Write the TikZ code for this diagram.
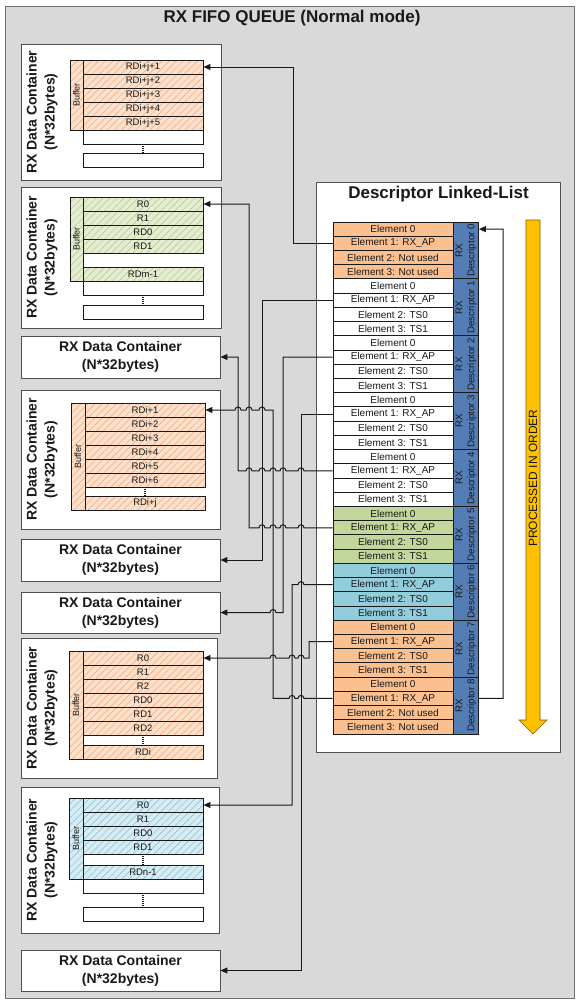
\documentclass[tikz,border=0pt]{standalone}
\usepackage{fontspec}
\setmainfont{Liberation Sans}
\usetikzlibrary{arrows.meta,patterns.meta}
\definecolor{frameG}{RGB}{217,217,217}
\definecolor{frameB}{RGB}{110,110,110}
\definecolor{boxB}{RGB}{80,80,80}
\definecolor{orC}{RGB}{250,192,144}
\definecolor{grC}{RGB}{195,214,155}
\definecolor{blC}{RGB}{146,205,220}
\definecolor{descB}{RGB}{84,125,181}
\definecolor{bufO}{RGB}{252,224,204}
\definecolor{hatO}{RGB}{238,168,118}
\definecolor{bufG}{RGB}{228,236,210}
\definecolor{hatG}{RGB}{178,198,138}
\definecolor{bufB}{RGB}{214,236,242}
\definecolor{hatB}{RGB}{125,188,208}
\definecolor{yelA}{RGB}{255,192,0}
\definecolor{yelD}{RGB}{127,96,0}
\definecolor{ink}{RGB}{25,25,25}
\newcommand\hopl[2]{-- (#1+3,#2) .. controls (#1+3,#2-4) and (#1-3,#2-4) .. (#1-3,#2)}
\tikzset{
 cont/.style={draw=boxB, fill=white, line width=0.9pt},
 ctitle/.style={font=\fontsize{14}{18}\selectfont\bfseries, align=center, inner sep=0pt, text=ink},
 brow/.style={draw=ink, line width=0.9pt, minimum width=120pt, minimum height=14pt, inner sep=0pt, font=\fontsize{9.5}{10}\selectfont, text=ink},
 hatchO/.style={preaction={fill=bufO}, pattern={Lines[angle=45,distance=5pt,line width=0.5pt]}, pattern color=hatO},
 hatchG/.style={preaction={fill=bufG}, pattern={Lines[angle=45,distance=5pt,line width=0.5pt]}, pattern color=hatG},
 hatchB/.style={preaction={fill=bufB}, pattern={Lines[angle=45,distance=5pt,line width=0.5pt]}, pattern color=hatB},
 bufrect/.style={draw=ink, line width=0.9pt},
 bufl/.style={font=\fontsize{9}{10}\selectfont, inner sep=0pt, text=ink},
 dotline/.style={draw=ink, line width=1.4pt, dash pattern=on 1pt off 1pt},
 ecell/.style={draw=ink, line width=0.9pt, minimum width=120pt, minimum height=14.222pt, inner sep=0pt, font=\fontsize{10}{11}\selectfont, text=ink},
 lcell/.style={draw=ink, line width=0.9pt, fill=descB, minimum width=25pt, minimum height=56.889pt, inner sep=0pt},
 ltext/.style={font=\fontsize{9.8}{12}\selectfont, align=center, inner sep=0pt, text=ink},
 conn/.style={draw=ink, line width=1pt},
 arr/.style={conn, -{Triangle[length=7pt,width=6pt]}},
 simplebox/.style={cont, ctitle, minimum width=199pt},
}
\begin{document}
\begin{tikzpicture}[x=1pt,y=-1pt]
\useasboundingbox (0,0) rectangle (576,1001);
% outer frame
\draw[fill=frameG, draw=frameB, line width=0.9pt] (5,6) rectangle (574,998);
\node[font=\fontsize{17}{20}\selectfont\bfseries, text=ink] (title) at (292,18) {RX FIFO QUEUE (Normal mode)};

% ---------- Container 1 ----------
\draw[cont] (21,44) rectangle (221,180);
\node[ctitle, rotate=90] (c1t) at (42,112) {RX Data Container\\(N*32bytes)};
\draw[bufrect, hatchO] (70,60) rectangle (83,130);
\node[bufl, rotate=90] at (76.5,95) {Buffer};
\foreach \i/\t in {1/RDi+j+1,2/RDi+j+2,3/RDi+j+3,4/RDi+j+4,5/RDi+j+5}
  \node[brow, hatchO] (c1r\i) at (143,53+14*\i) {\t};
\node[brow, fill=white] (c1w1) at (143,137) {};
\node[brow, fill=white] (c1w2) at (143,160) {};
\draw[dotline] (c1w1.south) -- (c1w2.north);

% ---------- Container 2 ----------
\draw[cont] (21,187) rectangle (221,328);
\node[ctitle, rotate=90] (c2t) at (42,257.5) {RX Data Container\\(N*32bytes)};
\draw[bufrect, hatchG] (70,197) rectangle (83,281);
\node[bufl, rotate=90] at (76.5,239) {Buffer};
\foreach \i/\t/\yy in {1/R0/204,2/R1/218,3/RD0/232,4/RD1/246,5/RDm-1/274}
  \node[brow, hatchG] (c2r\i) at (143,\yy) {\t};
\node[brow, fill=white] (c2w1) at (143,288) {};
\node[brow, fill=white] (c2w2) at (143,312) {};
\draw[dotline] (c2w1.south) -- (c2w2.north);

% ---------- Container 3 ----------
\node[simplebox, minimum height=42pt] (c3) at (120.5,357) {RX Data Container\\(N*32bytes)};

% ---------- Container 4 ----------
\draw[cont] (21,390) rectangle (220,529);
\node[ctitle, rotate=90] (c4t) at (42,459.5) {RX Data Container\\(N*32bytes)};
\draw[bufrect, hatchO] (71,403) rectangle (85,510);
\node[bufl, rotate=90] at (78,456.5) {Buffer};
\foreach \i/\t/\yy in {1/RDi+1/410,2/RDi+2/424,3/RDi+3/438,4/RDi+4/452,5/RDi+5/466,6/RDi+6/480,7/RDi+j/503}
  \node[brow, hatchO] (c4r\i) at (145,\yy) {\t};
\draw[dotline] (c4r6.south) -- (c4r7.north);

% ---------- Container 5, 6 ----------
\node[simplebox, minimum height=42pt] (c5) at (120.5,560) {RX Data Container\\(N*32bytes)};
\node[simplebox, minimum height=41pt] (c6) at (120.5,612.5) {RX Data Container\\(N*32bytes)};

% ---------- Container 7 ----------
\draw[cont] (21,638) rectangle (217,778);
\node[ctitle, rotate=90] (c7t) at (42,708) {RX Data Container\\(N*32bytes)};
\draw[bufrect, hatchO] (69,651) rectangle (83,759);
\node[bufl, rotate=90] at (76,705) {Buffer};
\foreach \i/\t/\yy in {1/R0/658,2/R1/672,3/R2/686,4/RD0/700,5/RD1/714,6/RD2/728,7/RDi/752}
  \node[brow, hatchO] (c7r\i) at (143,\yy) {\t};
\draw[dotline] (c7r6.south) -- (c7r7.north);

% ---------- Container 8 ----------
\draw[cont] (21,787) rectangle (219,933);
\node[ctitle, rotate=90] (c8t) at (42,860) {RX Data Container\\(N*32bytes)};
\draw[bufrect, hatchB] (69,798) rectangle (83,879);
\node[bufl, rotate=90] at (76,838.5) {Buffer};
\foreach \i/\t/\yy in {1/R0/805,2/R1/819,3/RD0/833,4/RD1/847,5/RDn-1/872}
  \node[brow, hatchB] (c8r\i) at (143,\yy) {\t};
\draw[dotline] (c8r4.south) -- (c8r5.north);
\node[brow, fill=white] (c8w1) at (143,886) {};
\node[brow, fill=white] (c8w2) at (143,914) {};
\draw[dotline] (c8w1.south) -- (c8w2.north);

% ---------- Container 9 ----------
\node[simplebox, minimum height=41pt] (c9) at (120.5,970.5) {RX Data Container\\(N*32bytes)};

% ---------- Descriptor linked list ----------
\draw[draw=boxB, fill=white, line width=0.9pt] (316.5,182) rectangle (560.5,752);
\node[font=\fontsize{17}{20}\selectfont\bfseries, text=ink] (dtitle) at (438.5,194) {Descriptor Linked-List};
\foreach \k/\fc/\ta/\tb in {0/orC/Not used/Not used,1/white/TS0/TS1,2/white/TS0/TS1,3/white/TS0/TS1,4/white/TS0/TS1,5/grC/TS0/TS1,6/blC/TS0/TS1,7/orC/TS0/TS1,8/orC/Not used/Not used}{
  \pgfmathsetmacro\tp{222+56.889*\k}
  \node[ecell, fill=\fc] (d\k e0) at (393,\tp+7.111) {Element 0};
  \node[ecell, fill=\fc] (d\k e1) at (393,\tp+21.333) {Element 1: RX\_AP};
  \node[ecell, fill=\fc] (d\k e2) at (393,\tp+35.556) {Element 2: \ta};
  \node[ecell, fill=\fc] (d\k e3) at (393,\tp+49.778) {Element 3: \tb};
  \node[lcell] (d\k l) at (466,\tp+28.444) {};
  \node[ltext, rotate=90] at (d\k l) {RX\\Descriptor \k};
}

% yellow processing arrow
\draw[fill=yelA, draw=yelD, line width=0.6pt] (526,220) -- (540,220) -- (540,720) -- (547,720) -- (533,734) -- (519,720) -- (526,720) -- cycle;
\node[rotate=90, font=\fontsize{12}{14}\selectfont, text=ink] (proc) at (533,478) {PROCESSED IN ORDER};

% ---------- connectors ----------
\draw[arr] (d0e1.west) -| (293,67) -- (c1r1.east);
\draw[arr] (d1e1.west) -| (262,560) -- (c5.east);
\draw[arr] (d2e1.west) -| (283,612.5) \hopl{273}{612.5} -- (c6.east);
\draw[arr] (d3e1.west) -| (301,970.5) -- (c9.east);
\draw[arr] (d4e1.west) \hopl{301}{470.889} \hopl{283}{470.889} \hopl{273}{470.889} \hopl{262}{470.889} \hopl{249}{470.889} -- (238,470.889) -- (238,357) -- (c3.east);
\draw[arr] (d5e1.west) \hopl{301}{527.778} \hopl{283}{527.778} \hopl{273}{527.778} \hopl{262}{527.778} -- (249,527.778) -- (249,204) -- (c2r1.east);
\draw[arr] (d6e1.west) \hopl{301}{584.667} -- (292,584.667) -- (292,805) -- (c8r1.east);
\draw[arr] (d7e1.west) -- (309,641.556) -- (309,658) \hopl{301}{658} \hopl{292}{658} \hopl{273}{658} -- (c7r1.east);
\draw[arr] (d8e1.west) \hopl{301}{698.444} \hopl{292}{698.444} -- (273,698.444) -- (273,410) \hopl{262}{410} \hopl{249}{410} \hopl{238}{410} -- (c4r1.east);
\draw[arr] (d8l.east |- d8e1) -- (503,698.444) -- (503,229.111) -- (d0l.east |- d0e0);
\end{tikzpicture}
\end{document}
